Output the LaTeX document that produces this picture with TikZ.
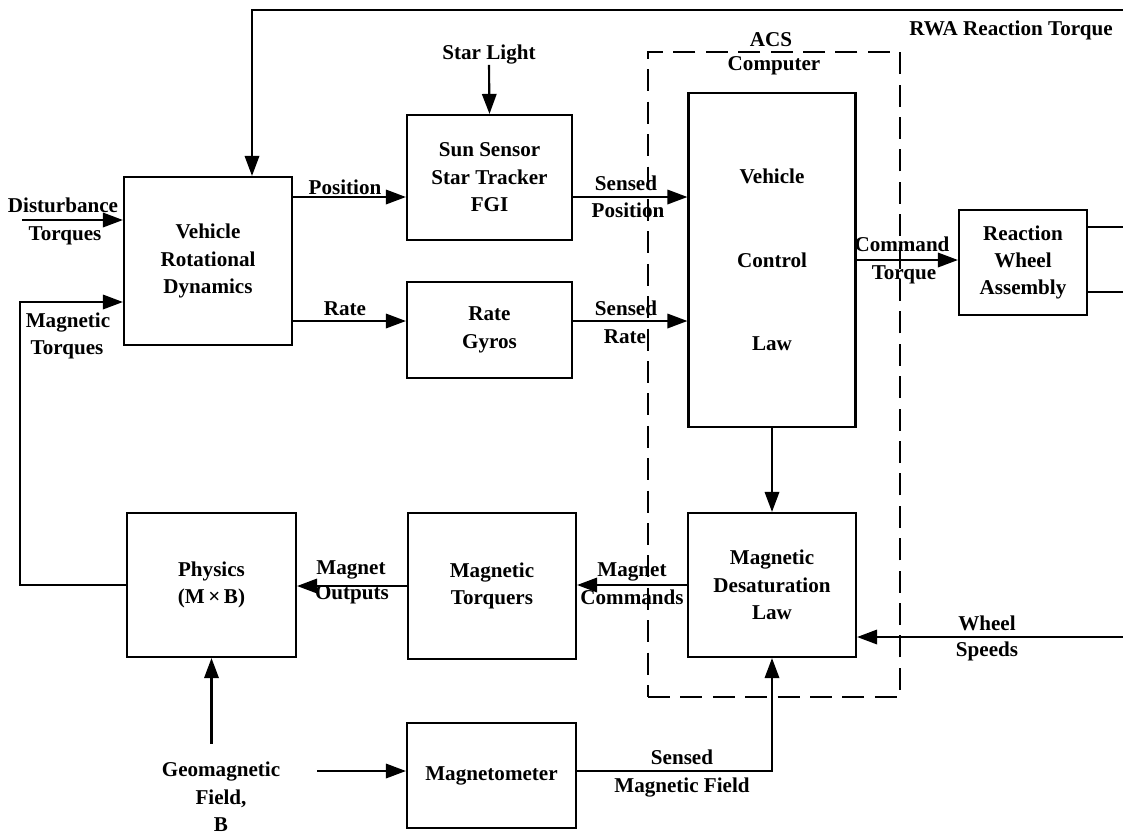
\documentclass[tikz,border=0pt]{standalone}
\usepackage{fontspec}
\setmainfont{Liberation Serif}
\usetikzlibrary{arrows.meta}
\tikzset{every node/.style={font=\bfseries\fontsize{15}{19.5}\selectfont},
 block/.style={draw,line width=1.5pt,inner sep=0pt,align=center},
 link/.style={-{Triangle[length=5mm,width=3.6mm]},line width=1.5pt},
 wire/.style={line width=1.5pt},
 acsbox/.style={draw,line width=1.3pt,dash pattern=on 5.5mm off 2.6mm},
 lbl/.style={inner sep=0pt,align=center}}

\begin{document}
\begin{tikzpicture}[x=0.025cm,y=-0.025cm]

\path[use as bounding box] (0,0) rectangle (1123,837);
\node[acsbox,minimum width=6.3cm,minimum height=16.125cm] (acs) at (774,374.5) {};
\node[block,minimum width=4.2cm,minimum height=4.2cm] (vrd) at (208,261)
 {Vehicle\\Rotational\\Dynamics};
\node[block,minimum width=4.125cm,minimum height=3.125cm] (sun) at (489.5,177.5)
 {Sun Sensor\\Star Tracker\\FGI};
\node[block,minimum width=4.125cm,minimum height=2.4cm] (gyro) at (489.5,330)
 {Rate\\Gyros};
\node[block,minimum width=4.175cm,minimum height=8.35cm] (vcl) at (772,260)
 {Vehicle\\[40pt]Control\\[40pt]Law};
\node[block,minimum width=3.2cm,minimum height=2.625cm] (rwa) at (1023,262.5)
 {Reaction\\Wheel\\Assembly};
\node[block,minimum width=4.225cm,minimum height=3.6cm] (phys) at (211.5,585)
 {Physics\\(M\,×\,B)};
\node[block,minimum width=4.2cm,minimum height=3.65cm] (torq) at (492,586)
 {Magnetic\\Torquers};
\node[block,minimum width=4.2cm,minimum height=3.6cm] (desat) at (772,585)
 {Magnetic\\Desaturation\\Law};
\node[block,minimum width=4.225cm,minimum height=2.625cm] (mag) at (491.5,775.5)
 {Magnetometer};

\node[lbl] (slight) at (489,55) {Star Light};
\node[lbl] (geo) at (221,797) {Geomagnetic\\Field,\\B};
\node[lbl] (acs1) at (771,40) {ACS};
\node[lbl] (acs2) at (774,66) {Computer};
\node[lbl] (rrt) at (1011,30) {RWA Reaction Torque};
\node[lbl] (dist1) at (63,205) {Disturbance};
\node[lbl] (dist2) at (65,236) {Torques};
\node[lbl] (mt1) at (68,323) {Magnetic};
\node[lbl] (mt2) at (67,350) {Torques};
\node[lbl] (pos) at (345,187) {Position};
\node[lbl] (rate) at (345,309) {Rate};
\node[lbl] (sp1) at (626,183) {Sensed};
\node[lbl] (sp2) at (628,210) {Position};
\node[lbl] (sr1) at (626,308) {Sensed};
\node[lbl] (sr2) at (625,337) {Rate};
\node[lbl] (ct1) at (902,244) {Command};
\node[lbl] (ct2) at (904,275) {Torque};
\node[lbl] (mo1) at (351,570) {Magnet};
\node[lbl] (mo2) at (352,595) {Outputs};
\node[lbl] (mc1) at (632,572) {Magnet};
\node[lbl] (mc2) at (632,597) {Commands};
\node[lbl] (smf1) at (682,757) {Sensed};
\node[lbl] (smf2) at (682,787) {Magnetic Field};
\node[lbl] (wsp1) at (987,623) {Wheel};
\node[lbl] (wsp2) at (987,651) {Speeds};

\coordinate (fbR) at (1123,10);
\coordinate (fbL) at (252,10);
\coordinate (dist) at (22,220);
\coordinate (mtl) at (20,302);
\coordinate (ypos) at (0,197);
\coordinate (yrate) at (0,321);
\coordinate (rwaA) at (1123,227);
\coordinate (rwaB) at (1123,292);
\coordinate (ws) at (1123,637);
\coordinate (geoR) at (317,771);

\draw[link] (fbR) -- (fbL) -- (fbL |- vrd.north);
\draw[link] (dist) -- (vrd.west |- dist);
\draw[link] (phys.west) -| (mtl) -- (vrd.west |- mtl);
\draw[link] (vrd.east |- ypos) -- (sun.west |- ypos);
\draw[link] (vrd.east |- yrate) -- (gyro.west |- yrate);
\draw[link] (sun.east |- ypos) -- (vcl.west |- ypos);
\draw[link] (gyro.east |- yrate) -- (vcl.west |- yrate);
\draw[link] (slight.south) -- (sun.north);
\draw[link] (vcl.east) -- (rwa.west |- vcl.east);
\draw[wire] (rwa.east |- rwaA) -- (rwaA);
\draw[wire] (rwa.east |- rwaB) -- (rwaB);
\draw[link] (vcl.south) -- (desat.north);
\draw[link] (ws) -- (desat.east |- ws);
\draw[link] (desat.west) -- (torq.east |- desat.west);
\draw[link] (torq.west) -- (phys.east |- torq.west);
\draw[link] ([yshift=4.5mm]phys.south |- geo.north) -- (phys.south);
\draw[link] (geoR) -- (mag.west |- geoR);
\draw[link] (mag.east |- geoR) -| (desat.south);

\end{tikzpicture}
\end{document}
